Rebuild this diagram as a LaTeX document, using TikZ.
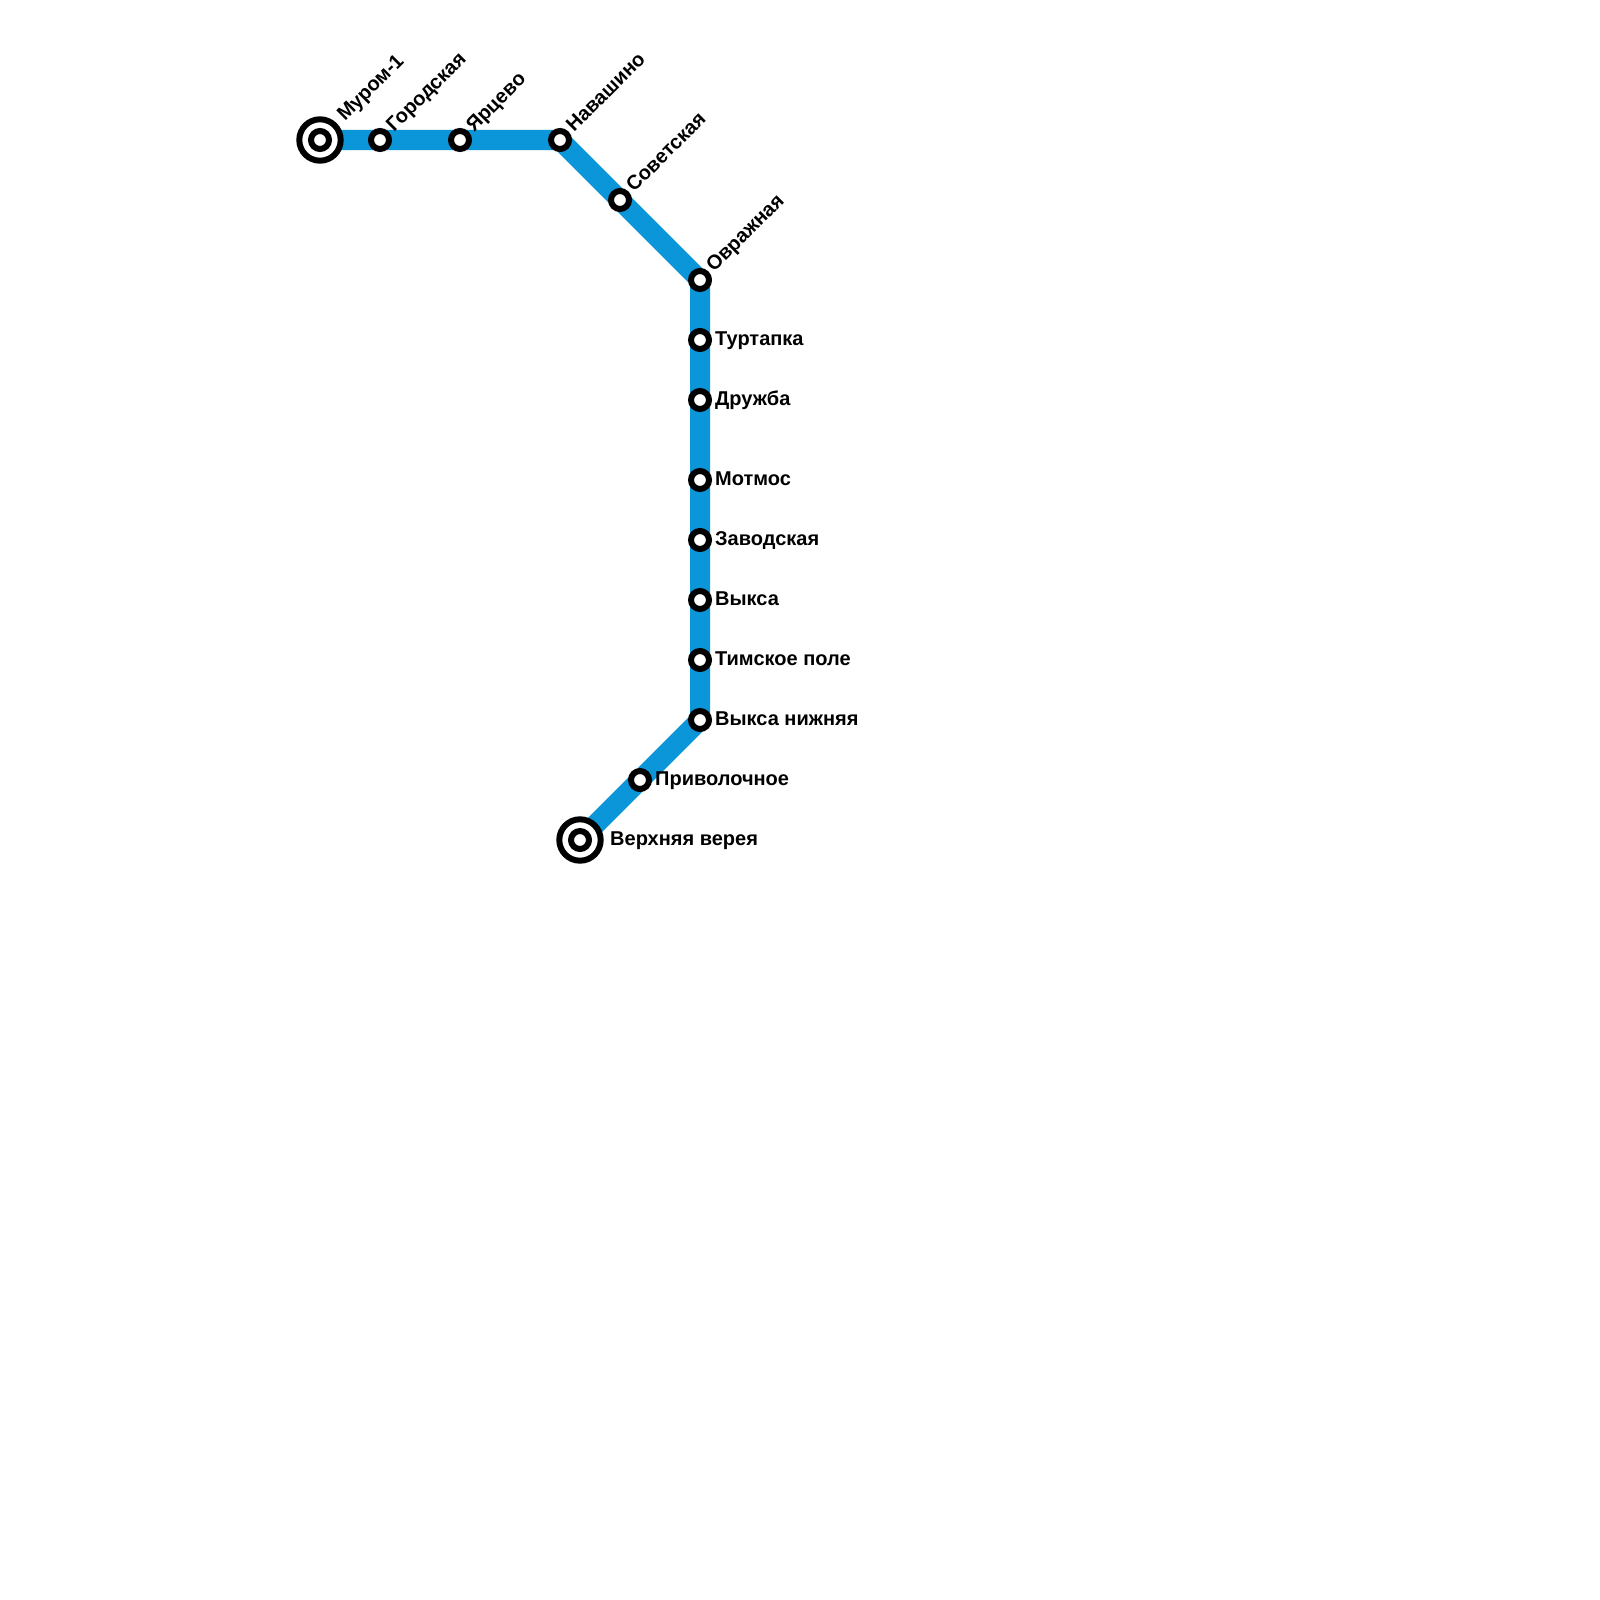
\documentclass[tikz,border=0pt]{standalone}
\usepackage{fontspec}
\setmainfont{Liberation Sans}
\definecolor{metro}{RGB}{10,150,217}
\tikzset{
  every node/.append style={font=\fontsize{20}{22}\selectfont\bfseries},
  metroline/.style={draw=metro,line width=20pt,line join=miter},
  stn/.style={circle,draw=black,fill=white,line width=6pt,minimum size=18pt,inner sep=0pt,outer sep=0pt},
  termouter/.style={circle,draw=black,fill=white,line width=6pt,minimum size=41.4pt,inner sep=0pt,outer sep=0pt},
  lblr/.style={anchor=base west,inner sep=0pt,text=black},
  lbld/.style={anchor=base west,inner sep=0pt,rotate=45,text=black}
}
\begin{document}
\begin{tikzpicture}[x=1pt,y=-1pt]
\useasboundingbox (0,0) rectangle (1600,1600);
\fill[white] (0,0) rectangle (1600,1600);
\coordinate (a1) at (320,140);
\coordinate (a2) at (380,140);
\coordinate (a3) at (460,140);
\coordinate (a4) at (560,140);
\coordinate (a5) at (620,200);
\coordinate (a6) at (700,280);
\coordinate (a7) at (700,340);
\coordinate (a8) at (700,400);
\coordinate (a9) at (700,480);
\coordinate (a10) at (700,540);
\coordinate (a11) at (700,600);
\coordinate (a12) at (700,660);
\coordinate (a13) at (700,720);
\coordinate (a14) at (640,780);
\coordinate (a15) at (580,840);
\draw[metroline] (a1) -- (a4) -- (a6) -- (a13) -- (a15);
\node[termouter] (t1) at (a1) {};
\node[stn] (s1) at (a1) {};
\node[termouter] (t15) at (a15) {};
\node[stn] (s15) at (a15) {};
\foreach \i in {2,...,14} { \node[stn] (s\i) at (a\i) {}; }
\node[lbld] (l1) at (345,122) {Муром-1};
\node[lbld] (l2) at (394,133) {Городская};
\node[lbld] (l3) at (474,133) {Ярцево};
\node[lbld] (l4) at (574,133) {Навашино};
\node[lbld] (l5) at (634,193) {Советская};
\node[lbld] (l6) at (714,273) {Овражная};
\node[lblr] (l7) at (715,345) {Туртапка};
\node[lblr] (l8) at (715,405) {Дружба};
\node[lblr] (l9) at (715,485) {Мотмос};
\node[lblr] (l10) at (715,545) {Заводская};
\node[lblr] (l11) at (715,605) {Выкса};
\node[lblr] (l12) at (715,665) {Тимское поле};
\node[lblr] (l13) at (715,725) {Выкса нижняя};
\node[lblr] (l14) at (655,785) {Приволочное};
\node[lblr] (l15) at (610,845) {Верхняя верея};
\end{tikzpicture}
\end{document}
